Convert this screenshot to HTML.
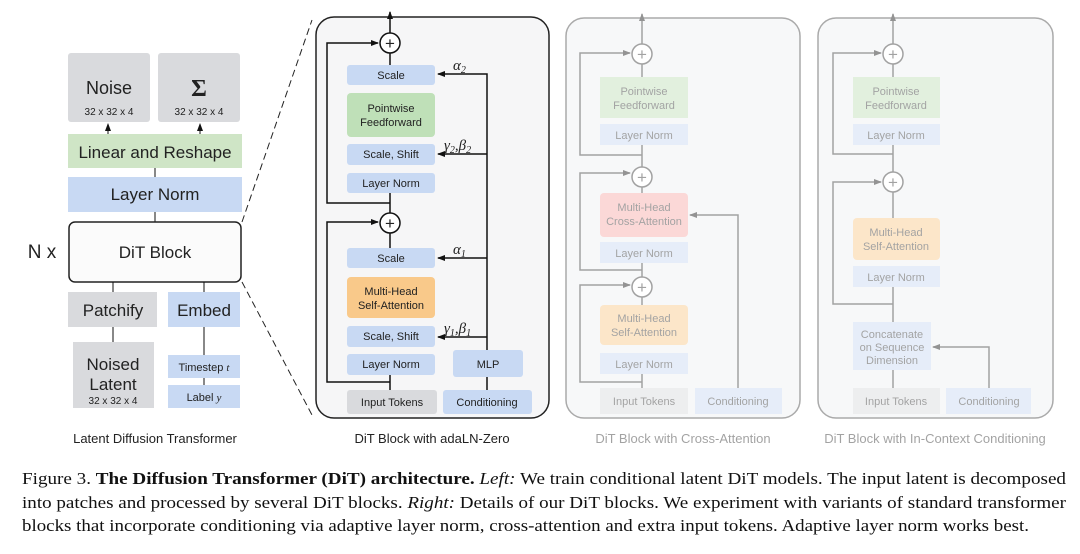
<!DOCTYPE html>
<html><head><meta charset="utf-8"><style>
html,body{margin:0;padding:0;background:#fff;}
svg{display:block;}
</style></head><body>
<svg width="1080" height="554" viewBox="0 0 1080 554" xmlns="http://www.w3.org/2000/svg" font-family="'Liberation Sans', sans-serif">
<defs>
<marker id="a" markerWidth="8" markerHeight="8" refX="7" refY="4" orient="auto" markerUnits="userSpaceOnUse"><path d="M0,1 L8,4 L0,7 Z" fill="#111"/></marker>
</defs>
<rect width="1080" height="554" fill="#fff"/>

<!-- LEFT -->
<g font-size="17" fill="#222" text-anchor="middle">
<rect x="68" y="53" width="82" height="69" rx="3" fill="#d9dadd"/>
<text x="109" y="94" font-size="18">Noise</text><text x="109" y="115" font-size="10">32 x 32 x 4</text>
<rect x="158" y="53" width="82" height="69" rx="3" fill="#d9dadd"/>
<text x="199" y="96" font-size="24" font-weight="bold" font-family="'Liberation Serif', serif">Σ</text><text x="199" y="115" font-size="10">32 x 32 x 4</text>
<line x1="108" y1="134" x2="108" y2="124" stroke="#111" marker-end="url(#a)"/>
<line x1="200" y1="134" x2="200" y2="124" stroke="#111" marker-end="url(#a)"/>
<rect x="68" y="134" width="174" height="34" fill="#cfe5c6"/>
<text x="155" y="158">Linear and Reshape</text>
<line x1="155" y1="168" x2="155" y2="177" stroke="#111"/>
<rect x="68" y="177" width="174" height="35" fill="#c8d9f3"/>
<text x="155" y="200">Layer Norm</text>
<line x1="155" y1="212" x2="155" y2="222" stroke="#111"/>
<rect x="69" y="222" width="172" height="60" rx="6" fill="#fbfbfb" stroke="#222" stroke-width="1.5"/>
<text x="155" y="258">DiT Block</text>
<text x="42" y="258" font-size="19">N x</text>
<line x1="113" y1="282" x2="113" y2="292" stroke="#111"/>
<line x1="204" y1="282" x2="204" y2="292" stroke="#111"/>
<rect x="68" y="292" width="89" height="35" fill="#d9dadd"/>
<text x="113" y="316">Patchify</text>
<rect x="168" y="292" width="72" height="35" fill="#c8d9f3"/>
<text x="204" y="316">Embed</text>
<line x1="113" y1="327" x2="113" y2="342" stroke="#111"/>
<line x1="204" y1="327" x2="204" y2="355" stroke="#111"/>
<rect x="73" y="342" width="81" height="66" fill="#d9dadd"/>
<text x="113" y="370">Noised</text><text x="113" y="390">Latent</text><text x="113" y="404" font-size="10">32 x 32 x 4</text>
<rect x="168" y="355" width="72" height="23" fill="#c8d9f3"/>
<text x="204" y="371" font-size="11">Timestep <tspan font-style="italic" font-family="'Liberation Serif', serif">t</tspan></text>
<line x1="204" y1="378" x2="204" y2="385" stroke="#111"/>
<rect x="168" y="385" width="72" height="23" fill="#c8d9f3"/>
<text x="204" y="401" font-size="11">Label <tspan font-style="italic" font-family="'Liberation Serif', serif">y</tspan></text>
<text x="155" y="443" font-size="13">Latent Diffusion Transformer</text>
</g>
<line x1="242" y1="222" x2="312" y2="20" stroke="#222" stroke-dasharray="7,4"/>
<line x1="242" y1="282" x2="312" y2="415" stroke="#222" stroke-dasharray="7,4"/>

<!-- MIDDLE -->
<g font-size="11" fill="#222" text-anchor="middle">
<rect x="316" y="17" width="233" height="401" rx="18" fill="#f6f6f7" stroke="#222" stroke-width="1.5"/>
<line x1="390" y1="33" x2="390" y2="12" stroke="#111" stroke-width="1.5" marker-end="url(#a)"/>
<circle cx="390" cy="43" r="10" fill="#fff" stroke="#111" stroke-width="1.5"/>
<text x="390" y="49" font-size="17">+</text>
<line x1="390" y1="53" x2="390" y2="65" stroke="#111" stroke-width="1.5"/>
<rect x="347" y="65" width="88" height="20" rx="3" fill="#c8d9f3"/><text x="391" y="79">Scale</text>
<rect x="347" y="93" width="88" height="44" rx="4" fill="#bfe0b8"/><text x="391" y="112">Pointwise</text><text x="391" y="126">Feedforward</text>
<rect x="347" y="144" width="88" height="21" rx="3" fill="#c8d9f3"/><text x="391" y="158">Scale, Shift</text>
<rect x="347" y="173" width="88" height="20" rx="3" fill="#c8d9f3"/><text x="391" y="187">Layer Norm</text>
<line x1="390" y1="193" x2="390" y2="213" stroke="#111" stroke-width="1.5"/>
<circle cx="390" cy="223" r="10" fill="#fff" stroke="#111" stroke-width="1.5"/>
<text x="390" y="229" font-size="17">+</text>
<line x1="390" y1="233" x2="390" y2="248" stroke="#111" stroke-width="1.5"/>
<rect x="347" y="248" width="88" height="20" rx="3" fill="#c8d9f3"/><text x="391" y="262">Scale</text>
<rect x="347" y="277" width="88" height="41" rx="4" fill="#f9c98a"/><text x="391" y="295">Multi-Head</text><text x="391" y="309">Self-Attention</text>
<rect x="347" y="326" width="88" height="21" rx="3" fill="#c8d9f3"/><text x="391" y="340">Scale, Shift</text>
<rect x="347" y="354" width="88" height="21" rx="3" fill="#c8d9f3"/><text x="391" y="368">Layer Norm</text>
<line x1="390" y1="375" x2="390" y2="390" stroke="#111" stroke-width="1.5"/>
<rect x="347" y="390" width="90" height="24" rx="3" fill="#d9dadd"/><text x="392" y="406">Input Tokens</text>
<rect x="443" y="390" width="89" height="24" rx="3" fill="#c8d9f3"/><text x="487" y="406">Conditioning</text>
<rect x="453" y="350" width="70" height="27" rx="3" fill="#c8d9f3"/><text x="488" y="368">MLP</text>
<line x1="487" y1="377" x2="487" y2="390" stroke="#111" stroke-width="1.5"/>
<polyline points="487,350 487,74 438,74" fill="none" stroke="#111" stroke-width="1.5" marker-end="url(#a)"/>
<line x1="487" y1="154" x2="438" y2="154" stroke="#111" stroke-width="1.5" marker-end="url(#a)"/>
<line x1="487" y1="258" x2="438" y2="258" stroke="#111" stroke-width="1.5" marker-end="url(#a)"/>
<line x1="487" y1="337" x2="438" y2="337" stroke="#111" stroke-width="1.5" marker-end="url(#a)"/>
<polyline points="390,203 327,203 327,43 378,43" fill="none" stroke="#111" stroke-width="1.5" marker-end="url(#a)"/>
<polyline points="390,382 327,382 327,222 378,222" fill="none" stroke="#111" stroke-width="1.5" marker-end="url(#a)"/>
<g font-family="'Liberation Serif', serif" font-style="italic" font-size="15" text-anchor="start">
<text x="453" y="70">α<tspan font-size="10" dy="3">2</tspan></text>
<text x="444" y="150">γ<tspan font-size="10" dy="3">2</tspan><tspan dy="-3">,β</tspan><tspan font-size="10" dy="3">2</tspan></text>
<text x="453" y="254">α<tspan font-size="10" dy="3">1</tspan></text>
<text x="444" y="333">γ<tspan font-size="10" dy="3">1</tspan><tspan dy="-3">,β</tspan><tspan font-size="10" dy="3">1</tspan></text>
</g>
<text x="432" y="443" font-size="13">DiT Block with adaLN-Zero</text>
</g>

<!-- RIGHT panels (faded) -->
<g opacity="0.45" font-size="11" fill="#333" text-anchor="middle">
<rect x="566" y="18" width="234" height="400" rx="18" fill="#eef0f3" stroke="#444" stroke-width="1.5"/>
<line x1="642" y1="44" x2="642" y2="14" stroke="#333" stroke-width="1.5" marker-end="url(#a)"/>
<circle cx="642" cy="54" r="10" fill="#fff" stroke="#333" stroke-width="1.5"/><text x="642" y="60" font-size="17">+</text>
<line x1="642" y1="64" x2="642" y2="77" stroke="#333" stroke-width="1.5"/>
<rect x="600" y="77" width="88" height="41" fill="#bfe0b8"/><text x="644" y="95">Pointwise</text><text x="644" y="109">Feedforward</text>
<rect x="600" y="124" width="88" height="21" fill="#c8d9f3"/><text x="644" y="139">Layer Norm</text>
<line x1="642" y1="145" x2="642" y2="167" stroke="#333" stroke-width="1.5"/>
<circle cx="642" cy="177" r="10" fill="#fff" stroke="#333" stroke-width="1.5"/><text x="642" y="183" font-size="17">+</text>
<line x1="642" y1="187" x2="642" y2="193" stroke="#333" stroke-width="1.5"/>
<rect x="600" y="193" width="88" height="44" rx="4" fill="#f7aaa8"/><text x="644" y="211">Multi-Head</text><text x="644" y="225">Cross-Attention</text>
<rect x="600" y="242" width="88" height="21" fill="#c8d9f3"/><text x="644" y="257">Layer Norm</text>
<line x1="642" y1="263" x2="642" y2="277" stroke="#333" stroke-width="1.5"/>
<circle cx="642" cy="287" r="10" fill="#fff" stroke="#333" stroke-width="1.5"/><text x="642" y="293" font-size="17">+</text>
<line x1="642" y1="297" x2="642" y2="305" stroke="#333" stroke-width="1.5"/>
<rect x="600" y="305" width="88" height="40" rx="4" fill="#f9c98a"/><text x="644" y="322">Multi-Head</text><text x="644" y="336">Self-Attention</text>
<rect x="600" y="353" width="88" height="21" fill="#c8d9f3"/><text x="644" y="368">Layer Norm</text>
<line x1="642" y1="374" x2="642" y2="388" stroke="#333" stroke-width="1.5"/>
<rect x="600" y="388" width="88" height="26" fill="#d9dadd"/><text x="644" y="405">Input Tokens</text>
<rect x="695" y="388" width="87" height="26" fill="#c8d9f3"/><text x="738" y="405">Conditioning</text>
<polyline points="738,388 738,215 690,215" fill="none" stroke="#333" stroke-width="1.5" marker-end="url(#a)"/>
<polyline points="642,155 580,155 580,53 630,53" fill="none" stroke="#333" stroke-width="1.5" marker-end="url(#a)"/>
<polyline points="642,270 580,270 580,173 630,173" fill="none" stroke="#333" stroke-width="1.5" marker-end="url(#a)"/>
<polyline points="642,382 580,382 580,285 630,285" fill="none" stroke="#333" stroke-width="1.5" marker-end="url(#a)"/>
<text x="683" y="443" font-size="13">DiT Block with Cross-Attention</text>

<rect x="818" y="18" width="235" height="400" rx="18" fill="#eef0f3" stroke="#444" stroke-width="1.5"/>
<line x1="893" y1="44" x2="893" y2="14" stroke="#333" stroke-width="1.5" marker-end="url(#a)"/>
<circle cx="893" cy="54" r="10" fill="#fff" stroke="#333" stroke-width="1.5"/><text x="893" y="60" font-size="17">+</text>
<line x1="893" y1="64" x2="893" y2="77" stroke="#333" stroke-width="1.5"/>
<rect x="853" y="77" width="87" height="41" fill="#bfe0b8"/><text x="896" y="95">Pointwise</text><text x="896" y="109">Feedforward</text>
<rect x="853" y="124" width="87" height="21" fill="#c8d9f3"/><text x="896" y="139">Layer Norm</text>
<line x1="893" y1="145" x2="893" y2="172" stroke="#333" stroke-width="1.5"/>
<circle cx="893" cy="182" r="10" fill="#fff" stroke="#333" stroke-width="1.5"/><text x="893" y="188" font-size="17">+</text>
<line x1="893" y1="192" x2="893" y2="218" stroke="#333" stroke-width="1.5"/>
<rect x="853" y="218" width="87" height="42" rx="4" fill="#f9c98a"/><text x="896" y="236">Multi-Head</text><text x="896" y="250">Self-Attention</text>
<rect x="853" y="266" width="87" height="21" fill="#c8d9f3"/><text x="896" y="281">Layer Norm</text>
<line x1="893" y1="287" x2="893" y2="322" stroke="#333" stroke-width="1.5"/>
<rect x="853" y="322" width="78" height="48" fill="#c8d9f3"/><text x="892" y="338">Concatenate</text><text x="892" y="351">on Sequence</text><text x="892" y="364">Dimension</text>
<line x1="893" y1="370" x2="893" y2="388" stroke="#333" stroke-width="1.5"/>
<rect x="853" y="388" width="87" height="26" fill="#d9dadd"/><text x="896" y="405">Input Tokens</text>
<rect x="946" y="388" width="85" height="26" fill="#c8d9f3"/><text x="989" y="405">Conditioning</text>
<polyline points="989,388 989,347 933,347" fill="none" stroke="#333" stroke-width="1.5" marker-end="url(#a)"/>
<polyline points="893,154 833,154 833,53 881,53" fill="none" stroke="#333" stroke-width="1.5" marker-end="url(#a)"/>
<polyline points="893,304 833,304 833,182 881,182" fill="none" stroke="#333" stroke-width="1.5" marker-end="url(#a)"/>
<text x="935" y="443" font-size="13">DiT Block with In-Context Conditioning</text>
</g>

<!-- CAPTION -->
<g font-family="'Liberation Serif', serif" font-size="17" fill="#111">
<text x="22" y="484" textLength="1044" lengthAdjust="spacingAndGlyphs">Figure 3. <tspan font-weight="bold">The Diffusion Transformer (DiT) architecture.</tspan> <tspan font-style="italic">Left:</tspan> We train conditional latent DiT models. The input latent is decomposed</text>
<text x="22" y="508" textLength="1044" lengthAdjust="spacingAndGlyphs">into patches and processed by several DiT blocks. <tspan font-style="italic">Right:</tspan> Details of our DiT blocks. We experiment with variants of standard transformer</text>
<text x="22" y="531" textLength="1007" lengthAdjust="spacingAndGlyphs">blocks that incorporate conditioning via adaptive layer norm, cross-attention and extra input tokens. Adaptive layer norm works best.</text>
</g>
</svg>
</body></html>
